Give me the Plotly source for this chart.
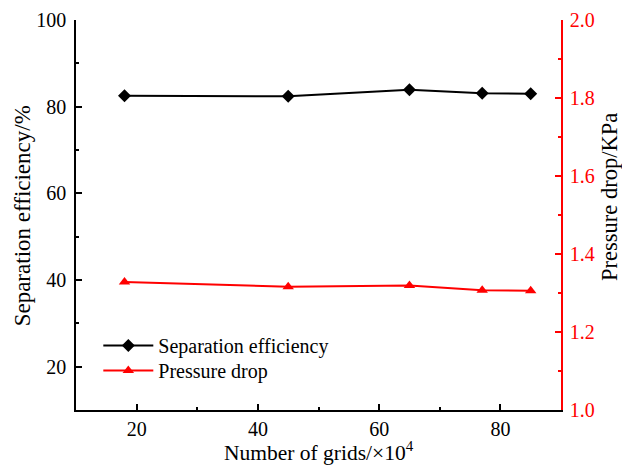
import plotly.graph_objects as go

# Mesh independence study: grid count vs. separation efficiency and pressure drop
grids = [18, 45, 65, 77, 85]                       # number of grids, x10^4
efficiency = [82.5, 82.4, 83.9, 83.1, 83.0]        # separation efficiency, %
pressure_drop = [1.328, 1.316, 1.319, 1.307, 1.306]  # pressure drop, KPa

x_ticks = [20, 40, 60, 80]
left_ticks = [20, 40, 60, 80, 100]
right_ticks = [1.0, 1.2, 1.4, 1.6, 1.8, 2.0]

FONT = "Times New Roman, Liberation Serif, serif"

fig = go.Figure()
fig.add_trace(go.Scatter(
    x=grids, y=efficiency, name="Separation efficiency", legend="legend",
    mode="lines+markers",
    line=dict(color="black", width=2),
    marker=dict(symbol="diamond", size=10, color="black"),
))
fig.add_trace(go.Scatter(
    x=grids, y=pressure_drop, name="Pressure drop", yaxis="y2", legend="legend2",
    mode="lines+markers",
    line=dict(color="red", width=2),
    marker=dict(symbol="triangle-up", size=10, color="red"),
))

axis_common = dict(ticks="inside", ticklen=6, tickwidth=1.5, showline=True,
                   linewidth=1.5, showgrid=False, zeroline=False, automargin=False)
legend_common = dict(xanchor="left", yanchor="top", bgcolor="rgba(0,0,0,0)",
                     font=dict(family=FONT, size=20), itemwidth=50)

fig.update_layout(
    width=622, height=467,
    margin=dict(l=76, r=61, t=20, b=57),
    plot_bgcolor="white", paper_bgcolor="white",
    font=dict(family=FONT, size=20, color="black"),
    showlegend=True,
    legend=dict(x=0.046, y=0.2154, **legend_common),
    legend2=dict(x=0.046, y=0.1513, **legend_common),
    xaxis=dict(
        range=[10, 90], tickvals=x_ticks, tickcolor="black", linecolor="black",
        tickfont=dict(family=FONT, size=20), ticklabelstandoff=0,
        minor=dict(tickvals=[30, 50, 70], ticks="inside", ticklen=3,
                   tickcolor="black", tickwidth=1.5),
        **axis_common,
    ),
    yaxis=dict(
        range=[10, 100], tickvals=left_ticks, tickcolor="black", linecolor="black",
        tickfont=dict(family=FONT, size=20), ticklabelstandoff=4,
        minor=dict(tickvals=[30, 50, 70, 90], ticks="inside", ticklen=3,
                   tickcolor="black", tickwidth=1.5),
        **axis_common,
    ),
    yaxis2=dict(
        range=[1.0, 2.0], tickvals=right_ticks, tickformat=".1f",
        overlaying="y", side="right", anchor="x",
        tickcolor="red", linecolor="red",
        tickfont=dict(family=FONT, size=20, color="red"), ticklabelstandoff=3,
        minor=dict(tickvals=[1.1, 1.3, 1.5, 1.7, 1.9], ticks="inside", ticklen=3,
                   tickcolor="red", tickwidth=1.5),
        **axis_common,
    ),
    annotations=[
        dict(text="Number of grids/×10<sup>4</sup>", xref="paper", yref="paper",
             x=0.5, y=-0.107, xanchor="center", yanchor="middle", showarrow=False,
             font=dict(family=FONT, size=21.5, color="black")),
        dict(text="Separation efficiency/%", xref="paper", yref="paper",
             x=-0.111, y=0.497, xanchor="center", yanchor="middle", showarrow=False,
             textangle=-90, font=dict(family=FONT, size=23, color="black")),
        dict(text="Pressure drop/KPa", xref="paper", yref="paper",
             x=1.1, y=0.545, xanchor="center", yanchor="middle", showarrow=False,
             textangle=-90, font=dict(family=FONT, size=22.5, color="black")),
    ],
)

fig.write_html("out.html")
